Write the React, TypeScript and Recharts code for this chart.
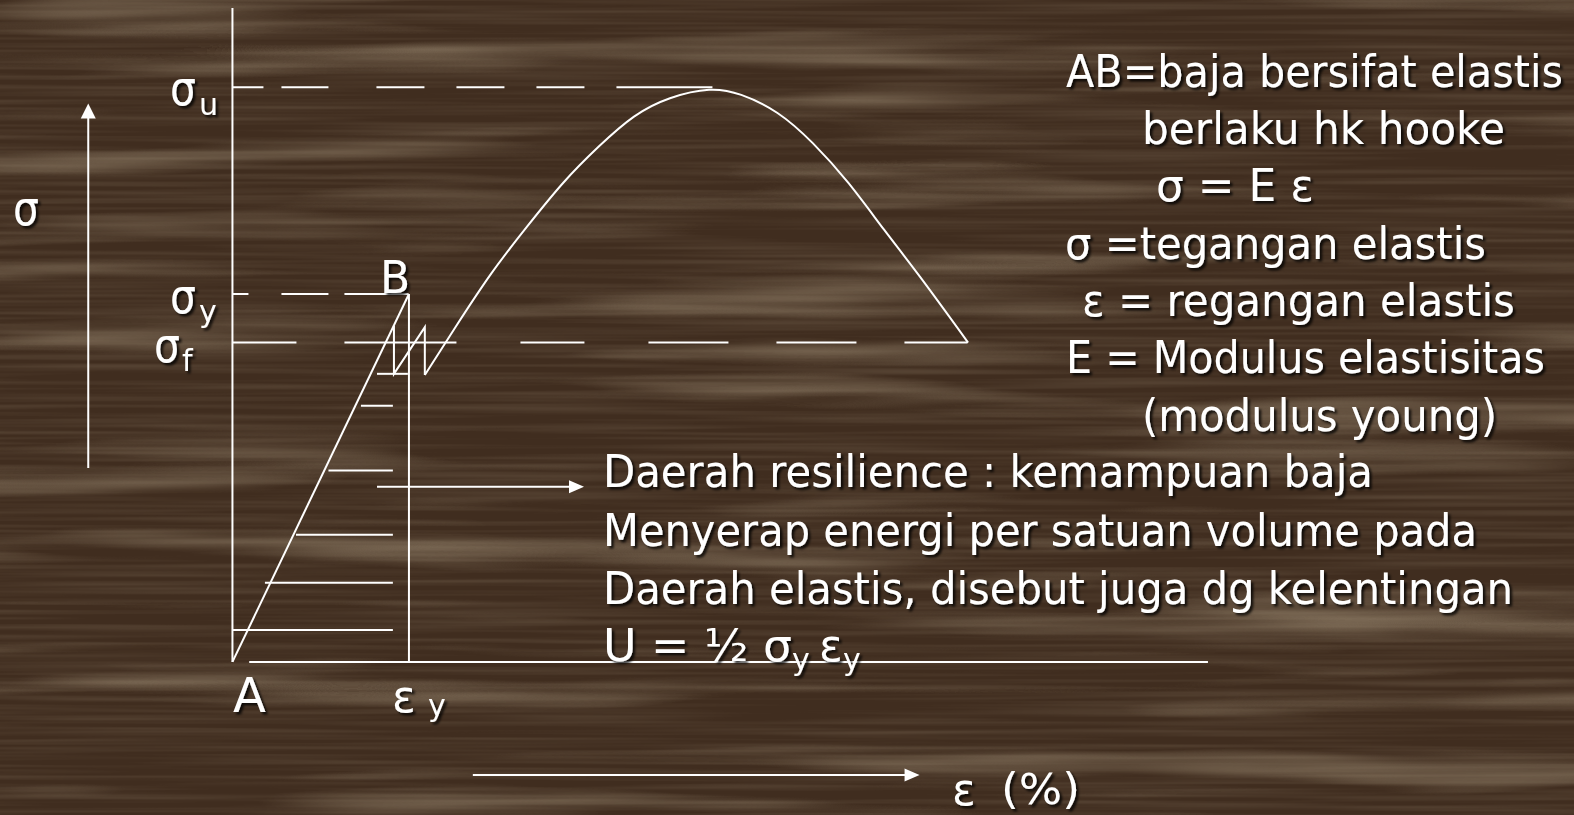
import React from 'react';
import { LineChart, Line, XAxis, YAxis, ReferenceLine, ReferenceDot } from 'recharts';

// axes in "yield units": strain / εy and stress / σy
const X_MIN = -1.317;
const X_MAX = 7.601;
const Y_MIN = -0.416;
const Y_MAX = 1.799;

const EPS_Y = 1;
const SIGMA_Y = 1;
const SIGMA_U = 1.562;
const SIGMA_F = 0.868;

// A -> B, elastic part (Hooke)
const elasticLine = [
  { x: 0, y: 0 },
  { x: 1, y: 1 },
];

// yield plateau drawn as a zigzag around σf
const yieldZigzag = [
  { x: 0.915, y: 0.913 },
  { x: 0.915, y: 0.783 },
  { x: 1.09, y: 0.91 },
  { x: 1.09, y: 0.78 },
];

// strain hardening up to σu, then necking down to fracture
const hardeningCurve = [
  { x: 1.09, y: 0.78 },
  { x: 1.265, y: 0.911 },
  { x: 1.467, y: 1.056 },
  { x: 1.669, y: 1.183 },
  { x: 1.872, y: 1.301 },
  { x: 2.074, y: 1.4 },
  { x: 2.275, y: 1.482 },
  { x: 2.479, y: 1.532 },
  { x: 2.7, y: 1.555 },
  { x: 2.883, y: 1.541 },
  { x: 3.088, y: 1.492 },
  { x: 3.288, y: 1.41 },
  { x: 3.491, y: 1.301 },
  { x: 3.693, y: 1.174 },
  { x: 3.895, y: 1.047 },
  { x: 4.168, y: 0.868 },
];

// hatching of the resilience area
const hatchLines = [
  { y: 0.783, x1: 0.819, x2: 0.994 },
  { y: 0.696, x1: 0.728, x2: 0.909 },
  { y: 0.52, x1: 0.544, x2: 0.909 },
  { y: 0.346, x1: 0.36, x2: 0.909 },
  { y: 0.215, x1: 0.184, x2: 0.909 },
  { y: 0.087, x1: 0.003, x2: 0.909 },
];

const rightNotes = [
  'AB=baja bersifat elastis',
  'berlaku hk hooke',
  'σ = E ε',
  'σ =tegangan elastis',
  'ε = regangan elastis',
  'E = Modulus elastisitas',
  '(modulus young)',
];

const lowerNotes = [
  'Daerah resilience : kemampuan baja',
  'Menyerap energi per satuan volume pada',
  'Daerah elastis, disebut juga dg kelentingan',
];

const W = 1574;
const H = 815;
const WHITE = '#ffffff';
const FONT = "Tahoma, 'DejaVu Sans', sans-serif";

const arrowUp = (p: any) => (
  <polygon points={`${p.cx},${p.cy} ${p.cx - 7.5},${p.cy + 15} ${p.cx + 7.5},${p.cy + 15}`} fill={WHITE} />
);
const arrowRight = (p: any) => (
  <polygon points={`${p.cx},${p.cy} ${p.cx - 15},${p.cy - 6.5} ${p.cx - 15},${p.cy + 6.5}`} fill={WHITE} />
);

function WoodBackground() {
  return (
    <svg width={W} height={H} style={{ position: 'absolute', left: 0, top: 0 }}>
      <defs>
        <filter id="grain" x="0" y="0" width="100%" height="100%">
          <feTurbulence type="fractalNoise" baseFrequency="0.0018 0.028" numOctaves={3} seed={11} />
          <feColorMatrix
            type="matrix"
            values="0 0 0 0 0.46  0 0 0 0 0.37  0 0 0 0 0.25  1.3 0 0 0 -0.7"
          />
        </filter>
        <filter id="fine" x="0" y="0" width="100%" height="100%">
          <feTurbulence type="fractalNoise" baseFrequency="0.003 0.2" numOctaves={2} seed={3} />
          <feColorMatrix
            type="matrix"
            values="0 0 0 0 0.16  0 0 0 0 0.11  0 0 0 0 0.07  0.9 0 0 0 -0.35"
          />
        </filter>
      </defs>
      <rect width={W} height={H} fill="#402d1f" />
      <rect width={W} height={H} filter="url(#fine)" />
      <rect width={W} height={H} filter="url(#grain)" />
    </svg>
  );
}

function Labels() {
  const t = { fill: WHITE, fontFamily: FONT };
  const rightPos = [
    [1066, 87, 497],
    [1142, 144, 363],
    [1156, 201, 158],
    [1065, 259, 421],
    [1082, 316, 433],
    [1066, 373, 479],
    [1142, 431, 355],
  ];
  const lowerPos = [
    [603, 487, 770],
    [603, 546, 874],
    [603, 604, 910],
  ];
  const sig = { fontSize: 48, textLength: 26, lengthAdjust: 'spacingAndGlyphs' };
  return (
    <svg width={W} height={H} style={{ position: 'absolute', left: 0, top: 0, pointerEvents: 'none' }}>
      <defs>
        <filter id="shadow" x="-10%" y="-30%" width="120%" height="160%">
          <feDropShadow dx="2.5" dy="2.5" stdDeviation="1.2" floodColor="#000" floodOpacity="0.8" />
        </filter>
      </defs>
      <g filter="url(#shadow)" {...t}>
        <text x={13} y={225} {...sig}>σ</text>
        <text x={170} y={105} {...sig}>σ</text>
        <text x={199} y={115} fontSize={30}>u</text>
        <text x={170} y={313} {...sig}>σ</text>
        <text x={199} y={322} fontSize={30}>y</text>
        <text x={154} y={362} {...sig}>σ</text>
        <text x={182} y={371} fontSize={30}>f</text>
        <text x={380} y={293} fontSize={44}>B</text>
        <text x={233} y={712} fontSize={48}>A</text>
        <text x={392} y={712} fontSize={44}>ε</text>
        <text x={428} y={716} fontSize={30}>y</text>
        <text x={952} y={805} fontSize={44}>ε</text>
        <text x={1001} y={804} fontSize={42} textLength={79} lengthAdjust="spacingAndGlyphs">(%)</text>

        {rightNotes.map((s, i) => (
          <text key={s} x={rightPos[i][0]} y={rightPos[i][1]} fontSize={44}
            textLength={rightPos[i][2]} lengthAdjust="spacingAndGlyphs">{s}</text>
        ))}
        {lowerNotes.map((s, i) => (
          <text key={s} x={lowerPos[i][0]} y={lowerPos[i][1]} fontSize={44}
            textLength={lowerPos[i][2]} lengthAdjust="spacingAndGlyphs">{s}</text>
        ))}
        <text x={603} y={661} fontSize={44} textLength={189} lengthAdjust="spacingAndGlyphs">U = ½ σ</text>
        <text x={792} y={670} fontSize={30}>y</text>
        <text x={819} y={661} fontSize={44}>ε</text>
        <text x={843} y={670} fontSize={30}>y</text>
      </g>
    </svg>
  );
}

export default function App() {
  const seg = (x1: number, y1: number, x2: number, y2: number) => [
    { x: x1, y: y1 },
    { x: x2, y: y2 },
  ];
  return (
    <div style={{ position: 'absolute', left: 0, top: 0, width: W, height: H, overflow: 'hidden' }}>
      <WoodBackground />
      <div style={{ position: 'absolute', left: 0, top: 0 }}>
        <LineChart width={W} height={H} margin={{ top: 0, right: 0, bottom: 0, left: 0 }}>
          <XAxis type="number" dataKey="x" domain={[X_MIN, X_MAX]} allowDataOverflow hide />
          <YAxis type="number" dataKey="y" domain={[Y_MIN, Y_MAX]} allowDataOverflow hide />

          {/* axes */}
          <ReferenceLine segment={seg(0, 0, 0, 1.777)} stroke={WHITE} strokeWidth={2} />
          <ReferenceLine segment={seg(0.095, 0, 5.527, 0)} stroke={WHITE} strokeWidth={2} />
          <ReferenceLine segment={seg(EPS_Y, 0, EPS_Y, SIGMA_Y)} stroke={WHITE} strokeWidth={2} />

          {/* stress levels */}
          <ReferenceLine segment={seg(0, SIGMA_U, 2.722, SIGMA_U)} stroke={WHITE} strokeWidth={2}
            strokeDasharray="31 18 47 48 48 32 48 32 48 32 96" />
          <ReferenceLine segment={seg(0, SIGMA_Y, EPS_Y, SIGMA_Y)} stroke={WHITE} strokeWidth={2}
            strokeDasharray="16 33 47 16 64" />
          <ReferenceLine segment={seg(0, SIGMA_F, 4.168, SIGMA_F)} stroke={WHITE} strokeWidth={2}
            strokeDasharray="64 48 112 64 64 64 80 48 80 48 63" />

          {hatchLines.map((h, i) => (
            <ReferenceLine key={i} segment={seg(h.x1, h.y, h.x2, h.y)} stroke={WHITE} strokeWidth={2} />
          ))}

          {/* arrows */}
          <ReferenceLine segment={seg(-0.817, 0.527, -0.817, 1.48)} stroke={WHITE} strokeWidth={2} />
          <ReferenceDot x={-0.817} y={1.518} r={0} shape={arrowUp} />
          <ReferenceLine segment={seg(0.819, 0.476, 1.95, 0.476)} stroke={WHITE} strokeWidth={2} />
          <ReferenceDot x={1.992} y={0.476} r={0} shape={arrowRight} />
          <ReferenceLine segment={seg(1.362, -0.307, 3.85, -0.307)} stroke={WHITE} strokeWidth={2} />
          <ReferenceDot x={3.893} y={-0.307} r={0} shape={arrowRight} />

          <Line data={elasticLine} dataKey="y" type="linear" stroke={WHITE} strokeWidth={2}
            dot={false} activeDot={false} isAnimationActive={false} />
          <Line data={yieldZigzag} dataKey="y" type="linear" stroke={WHITE} strokeWidth={2}
            dot={false} activeDot={false} isAnimationActive={false} />
          <Line data={hardeningCurve} dataKey="y" type="natural" stroke={WHITE} strokeWidth={2}
            dot={false} activeDot={false} isAnimationActive={false} />
        </LineChart>
      </div>
      <Labels />
    </div>
  );
}
